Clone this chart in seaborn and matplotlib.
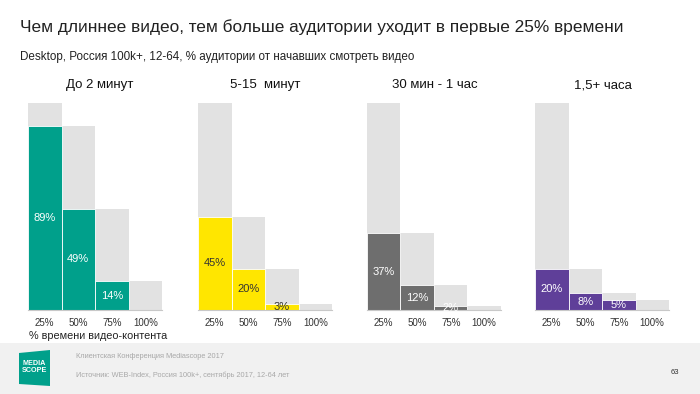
import matplotlib
matplotlib.use("Agg")
import matplotlib.pyplot as plt
from matplotlib.patches import Rectangle, Polygon
import seaborn as sns
import pandas as pd

sns.set_theme(style="white")
plt.rcParams['font.family'] = ['Liberation Sans', 'DejaVu Sans']

# ---- data ----
categories = ["25%", "50%", "75%", "100%"]
panel_titles = ["До 2 минут", "5-15  минут", "30 мин - 1 час", "1,5+ часа"]
short_videos = [89, 49, 14, 0]
mid_videos = [45, 20, 3, 0]
hour_videos = [37, 12, 2, 0]
long_videos = [20, 8, 5, 0]
start_value = 100
series = [short_videos, mid_videos, hour_videos, long_videos]
bar_colors = ["#00a08b", "#ffe600", "#6e6e6e", "#5f3f99"]
label_colors = ["white", "#333333", "white", "white"]
grey_color = "#e2e2e2"

title = "Чем длиннее видео, тем больше аудитории уходит в первые 25% времени"
subtitle = "Desktop, Россия 100k+, 12-64, % аудитории от начавших смотреть видео"
xlabel = "% времени видео-контента"
footer1 = "Клиентская Конференция Mediascope 2017"
footer2 = "Источник: WEB-Index, Россия 100k+, сентябрь 2017, 12-64 лет"
page_no = "63"

W, H = 700, 394
fig = plt.figure(figsize=(W / 100, H / 100), dpi=100)

def fy(y):
    return 1 - y / H

# footer band
fig.patches.append(Rectangle((0, 0), 1, (H - 343) / H, transform=fig.transFigure,
                             facecolor="#f1f1f1", edgecolor="none", zorder=0))

lefts = [28, 198, 367, 535]
title_centers = [100, 265, 435, 603]
for i, vals in enumerate(series):
    ax = fig.add_axes([lefts[i] / W, (H - 310) / H, 134 / W, 207 / H])
    prev = [start_value] + vals[:-1]
    df = pd.DataFrame({"cat": categories, "prev": prev, "val": vals})
    sns.barplot(data=df, x="cat", y="prev", color=grey_color, width=1.0,
                saturation=1, ax=ax, edgecolor="none")
    sns.barplot(data=df, x="cat", y="val", color=bar_colors[i], width=1.0,
                saturation=1, ax=ax, edgecolor="white", linewidth=0.6)
    for j, v in enumerate(vals):
        if v > 0:
            ax.text(j, v / 2, f"{v}%", ha="center", va="center",
                    fontsize=8, color=label_colors[i])
    ax.set_xlim(-0.5, 3.5)
    ax.set_ylim(0, 100)
    ax.set_xlabel("")
    ax.set_ylabel("")
    ax.set_yticks([])
    for s in ["top", "right", "left"]:
        ax.spines[s].set_visible(False)
    ax.spines["bottom"].set_color("#c8c8c8")
    ax.spines["bottom"].set_linewidth(0.8)
    ax.tick_params(axis="x", length=0, pad=5.5, labelsize=7, labelcolor="#333333")
    ax.set_facecolor("none")
    fig.text(title_centers[i] / W, fy(88), panel_titles[i], ha="center", va="baseline",
             fontsize=9.5, color="#111111")

fig.text(20 / W, fy(27), title, ha="left", va="center", fontsize=12.4, color="#222222")
fig.text(20 / W, fy(57), subtitle, ha="left", va="center", fontsize=8.4, color="#222222")
fig.text(29 / W, fy(336), xlabel, ha="left", va="center", fontsize=7.8, color="#222222")

# logo
logo = Polygon([(19 / W, fy(353)), (50 / W, fy(350)), (50 / W, fy(386)), (19 / W, fy(384))],
               closed=True, transform=fig.transFigure, facecolor="#00a08b",
               edgecolor="none", zorder=1)
fig.patches.append(logo)
fig.text(34.5 / W, fy(367), "MEDIA\nSCOPE", ha="center", va="center", fontsize=5.2,
         color="white", fontweight="bold", linespacing=1.0, zorder=2)

fig.text(76 / W, fy(356), footer1, ha="left", va="center", fontsize=5.3, color="#a8a8a8")
fig.text(76 / W, fy(375), footer2, ha="left", va="center", fontsize=5.3, color="#a8a8a8")
fig.text(675 / W, fy(373), page_no, ha="center", va="center", fontsize=5.5, color="#333333")

fig.savefig("out.png", dpi=100)
